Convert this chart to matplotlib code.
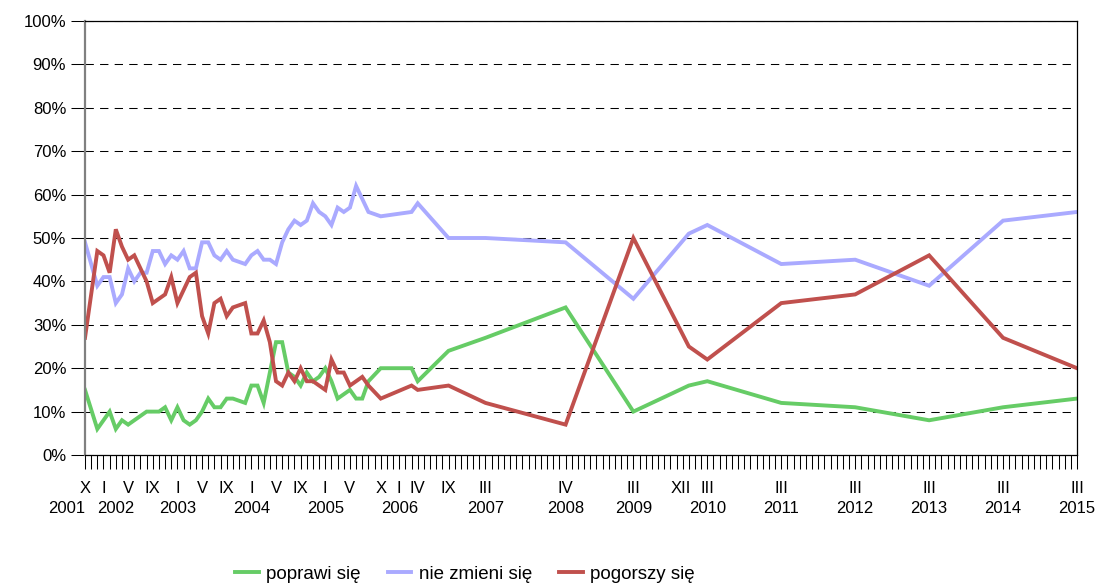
import matplotlib
matplotlib.use("Agg")
import matplotlib.pyplot as plt
import matplotlib.transforms as mtransforms
import pandas as pd
from matplotlib.ticker import FixedLocator, MultipleLocator, PercentFormatter

plt.rcParams["font.family"] = ["Liberation Sans", "DejaVu Sans"]

# survey months (YYYY-MM)
survey_months = [
    "2001-10", "2001-12", "2002-01", "2002-02", "2002-03", "2002-04", "2002-05",
    "2002-06", "2002-07", "2002-08", "2002-09", "2002-10", "2002-11", "2002-12",
    "2003-01", "2003-02", "2003-03", "2003-04", "2003-05", "2003-06", "2003-07",
    "2003-08", "2003-09", "2003-10", "2003-12", "2004-01", "2004-02", "2004-03",
    "2004-04", "2004-05", "2004-06", "2004-07", "2004-08", "2004-09", "2004-10",
    "2004-11", "2004-12", "2005-01", "2005-02", "2005-03", "2005-04", "2005-05",
    "2005-06", "2005-07", "2005-08", "2005-10", "2006-03", "2006-04", "2006-09",
    "2007-03", "2008-04", "2009-03", "2009-12", "2010-03", "2011-03", "2012-03",
    "2013-03", "2014-03", "2015-03",
]

poprawi = [
    15, 6, 8, 10, 6, 8, 7, 8, 9, 10, 10, 10, 11, 8, 11, 8, 7, 8, 10, 13, 11, 11, 13, 13,
    12, 16, 16, 12, 19, 26, 26, 19, 18, 16, 19, 17, 18, 20, 17, 13, 14, 15, 13, 13, 17,
    20, 20, 17, 24, 27,
    34, 10, 16, 17, 12, 11, 8, 11, 13,
]
nie_zmieni = [
    49, 39, 41, 41, 35, 37, 43, 40, 42, 42, 47, 47, 44, 46, 45, 47, 43, 43, 49, 49, 46, 45, 47, 45,
    44, 46, 47, 45, 45, 44, 49, 52, 54, 53, 54, 58, 56, 55, 53, 57, 56, 57, 62, 59, 56,
    55, 56, 58, 50, 50,
    49, 36, 51, 53, 44, 45, 39, 54, 56,
]
pogorszy = [
    27, 47, 46, 42, 52, 48, 45, 46, 43, 40, 35, 36, 37, 41, 35, 38, 41, 42, 32, 28, 35, 36, 32, 34,
    35, 28, 28, 31, 26, 17, 16, 19, 17, 20, 17, 17, 16, 15, 22, 19, 19, 16, 17, 18, 16,
    13, 16, 15, 16, 12,
    7, 50, 25, 22, 35, 37, 46, 27, 20,
]

# month tick labels (roman numerals) and year labels
month_label_dates = [
    "2001-10", "2002-01", "2002-05", "2002-09", "2003-01", "2003-05", "2003-09",
    "2004-01", "2004-05", "2004-09", "2005-01", "2005-05", "2005-10", "2006-01",
    "2006-04", "2006-09", "2007-03", "2008-04", "2009-03", "2009-12", "2010-03",
    "2011-03", "2012-03", "2013-03", "2014-03", "2015-03",
]
month_label_text = [
    "X", "I", "V", "IX", "I", "V", "IX", "I", "V", "IX", "I", "V", "X", "I",
    "IV", "IX", "III", "IV", "III", "XII", "III", "III", "III", "III", "III", "III",
]
year_label_dates = [
    "2001-10", "2002-03", "2003-01", "2004-01", "2005-01", "2006-01", "2007-03",
    "2008-04", "2009-03", "2010-03", "2011-03", "2012-03", "2013-03", "2014-03", "2015-03",
]
year_label_text = [
    "2001", "2002", "2003", "2004", "2005", "2006", "2007",
    "2008", "2009", "2010", "2011", "2012", "2013", "2014", "2015",
]


def month_index(dates, start="2001-10"):
    p = pd.PeriodIndex(dates, freq="M")
    s = pd.Period(start, freq="M")
    return [(x - s).n for x in p]


x = month_index(survey_months)
mx = month_index(month_label_dates)
yx = month_index(year_label_dates)

fig = plt.figure(figsize=(10.98, 5.85), dpi=100)
ax = fig.add_axes([85 / 1098, 130 / 585, 992 / 1098, 434 / 585])

ax.plot(x, poprawi, color="#66cc66", lw=2.8, label="poprawi się", solid_joinstyle="miter")
ax.plot(x, nie_zmieni, color="#aaaaff", lw=2.8, label="nie zmieni się", solid_joinstyle="miter")
ax.plot(x, pogorszy, color="#c0504d", lw=2.8, label="pogorszy się", solid_joinstyle="miter")

ax.set_xlim(0, max(x))
ax.set_ylim(0, 100)

# y axis
ax.yaxis.set_major_locator(MultipleLocator(10))
ax.yaxis.set_major_formatter(PercentFormatter(decimals=0))
ax.grid(axis="y", color="black", lw=0.75, linestyle=(0, (8, 6)))
ax.tick_params(axis="y", length=10, width=0.75, pad=3.5, labelsize=12, color="black")

# x axis: monthly minor ticks, roman month labels on the survey months
ax.xaxis.set_major_locator(FixedLocator(mx))
ax.set_xticklabels(month_label_text)
ax.xaxis.set_minor_locator(MultipleLocator(1))
ax.tick_params(axis="x", which="both", length=10, width=0.75, color="black")
ax.tick_params(axis="x", which="major", pad=9, labelsize=12)

# "XII" sits a bit left of its tick so it doesn't run into the next "III"
lbl = ax.get_xticklabels()[month_label_text.index("XII")]
lbl.set_transform(lbl.get_transform() + mtransforms.ScaledTranslation(-6 / 72, 0, fig.dpi_scale_trans))

for i, (xi, t) in enumerate(zip(yx, year_label_text)):
    ha = "right" if i == 0 else "center"
    ax.text(xi, -0.124, t, transform=ax.get_xaxis_transform(), ha=ha, va="center",
            fontsize=12)

for side in ["top", "right", "bottom"]:
    ax.spines[side].set_color("black")
    ax.spines[side].set_linewidth(0.9)
ax.spines["left"].set_color("#808080")
ax.spines["left"].set_linewidth(1.6)

fig.legend(loc="center", bbox_to_anchor=(465 / 1098, 11 / 585), ncol=3, frameon=False,
           fontsize=13.5, handlelength=1.25, handletextpad=0.4, columnspacing=1.45,
           borderpad=0)

fig.savefig("out.png", dpi=100)
